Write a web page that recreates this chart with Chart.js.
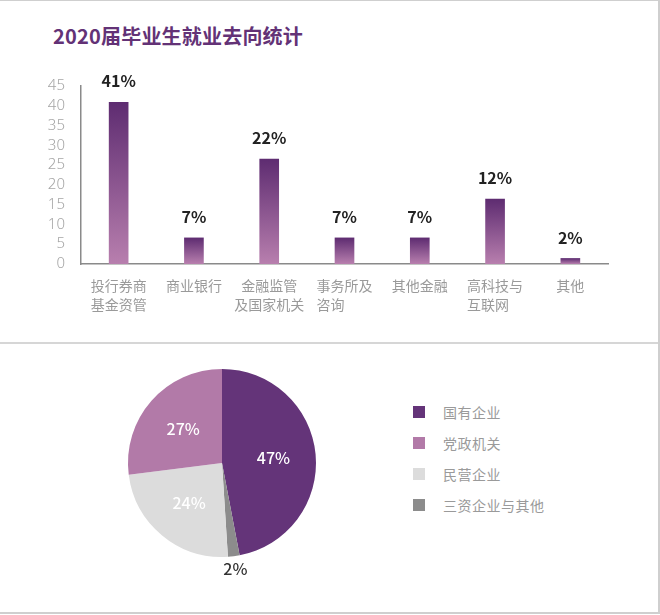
<!DOCTYPE html>
<html lang="zh-CN">
<head>
<meta charset="UTF-8">
<title>2020届毕业生就业去向统计</title>
<script src="https://cdn.jsdelivr.net/npm/chart.js"></script>
<style>
    body {
        margin: 0;
        background: #fff;
        font-family: "Noto Sans CJK SC", "Noto Sans", sans-serif;
    }
    .page {
        position: relative;
        width: 658px;
        height: 611px;
        border-top: 1px solid #cfcfcf;
        border-right: 2px solid #cfcfcf;
        border-bottom: 2px solid #cfcfcf;
    }
    h2 {
        position: absolute;
        left: 53px;
        top: 20px;
        margin: 0;
        font-size: 20px;
        line-height: 30px;
        letter-spacing: 0.2px;
        color: #633276;
        font-weight: bold;
    }
    .sep {
        position: absolute;
        left: 0;
        top: 341px;
        width: 658px;
        height: 0;
        border-top: 2px solid #d6d6d6;
    }
    #barBox { position: absolute; left: 0; top: 0; width: 660px; height: 340px; }
    #pieBox { position: absolute; left: 100px; top: 350px; width: 245px; height: 240px; }
    .legend { position: absolute; left: 413px; top: 395px; }
    .legend div {
        height: 31px;
        display: flex;
        align-items: center;
        font-size: 14px;
        letter-spacing: 0.5px;
        color: #9a9a9a;
    }
    .legend span {
        display: inline-block;
        width: 12px;
        height: 12px;
        margin-right: 18px;
    }
</style>
</head>
<body>
<div class="page">
    <h2>2020届毕业生就业去向统计</h2>
    <div id="barBox"><canvas id="barChart"></canvas></div>
    <div class="sep"></div>
    <div id="pieBox"><canvas id="pieChart"></canvas></div>
    <div class="legend" id="legend"></div>
</div>

<script>
    // bar chart data
    const categories = [
        ['投行券商', '基金资管'],
        '商业银行',
        ['金融监管', '及国家机关'],
        ['事务所及', '咨询\u3000\u3000'],
        '其他金融',
        ['高科技与', '互联网\u3000'],
        '其他'
    ];
    const barValues = [40.9, 6.6, 26.5, 6.6, 6.6, 16.4, 1.4];
    const barLabels = ['41%', '7%', '22%', '7%', '7%', '12%', '2%'];
    const yTicks = [0, 5, 10, 15, 20, 25, 30, 35, 40, 45];

    // pie chart data (clockwise from top)
    const pieLabels = ['国有企业', '三资企业与其他', '民营企业', '党政机关'];
    const pieValues = [47, 2, 24, 27];
    const pieColors = ['#643479', '#8c8c8c', '#dcdcdc', '#b27aa8'];
    const legendOrder = [0, 3, 2, 1];

    function barGradient(ctx) {
        const chart = ctx.chart;
        if (!chart.chartArea || ctx.parsed === undefined) return '#8a5096';
        const y = chart.scales.y;
        const top = y.getPixelForValue(ctx.parsed.y);
        const bottom = y.getPixelForValue(0);
        const g = chart.ctx.createLinearGradient(0, top, 0, bottom);
        g.addColorStop(0, '#5e2c71');
        g.addColorStop(1, '#b87fae');
        return g;
    }

    const barLabelPlugin = {
        id: 'barLabels',
        afterDatasetsDraw(chart) {
            const c = chart.ctx;
            c.save();
            c.font = 'bold 16px "Noto Sans CJK SC", sans-serif';
            c.fillStyle = '#222';
            c.textAlign = 'center';
            c.textBaseline = 'middle';
            chart.getDatasetMeta(0).data.forEach((bar, i) => {
                c.fillText(barLabels[i], bar.x, bar.y - 21);
            });
            c.restore();
        }
    };

    new Chart(document.getElementById('barChart'), {
        type: 'bar',
        data: {
            labels: categories,
            datasets: [{
                data: barValues,
                backgroundColor: barGradient,
                barThickness: 19
            }]
        },
        options: {
            responsive: true,
            maintainAspectRatio: false,
            animation: false,
            layout: { padding: { top: 85, right: 52, left: 1, bottom: 0 } },
            plugins: { legend: { display: false }, tooltip: { enabled: false } },
            scales: {
                x: {
                    afterFit(scale) { scale.height = 77; },
                    grid: { display: false, drawTicks: false },
                    border: { color: '#8a8a8a', width: 1.5 },
                    ticks: {
                        padding: 13,
                        maxRotation: 0,
                        autoSkip: false,
                        color: '#9a9a9a',
                        font: { size: 14, lineHeight: 1.3, family: '"Noto Sans CJK SC", sans-serif' }
                    }
                },
                y: {
                    min: 0,
                    max: 45,
                    afterFit(scale) { scale.width = 80; },
                    afterBuildTicks(scale) { scale.ticks = yTicks.map(v => ({ value: v })); },
                    grid: { display: false, drawTicks: false },
                    border: { color: '#8a8a8a', width: 1.5 },
                    ticks: {
                        padding: 16,
                        autoSkip: false,
                        color: '#a5a5a5',
                        font: { size: 15, family: '"Noto Sans", sans-serif', weight: 300 }
                    }
                }
            }
        },
        plugins: [barLabelPlugin]
    });

    const pieLabelPlugin = {
        id: 'pieLabels',
        afterDatasetsDraw(chart) {
            const c = chart.ctx;
            c.save();
            c.font = '500 16px "Noto Sans CJK SC", sans-serif';
            c.textAlign = 'center';
            c.textBaseline = 'middle';
            chart.getDatasetMeta(0).data.forEach((arc, i) => {
                const mid = (arc.startAngle + arc.endAngle) / 2;
                const small = pieValues[i] < 5;
                const r = small ? arc.outerRadius + 13 : arc.outerRadius * 0.55;
                c.fillStyle = small ? '#333' : '#fff';
                c.fillText(pieValues[i] + '%', arc.x + Math.cos(mid) * r, arc.y + Math.sin(mid) * r);
            });
            c.restore();
        }
    };

    new Chart(document.getElementById('pieChart'), {
        type: 'pie',
        data: {
            labels: pieLabels,
            datasets: [{
                data: pieValues,
                backgroundColor: pieColors,
                borderWidth: 0
            }]
        },
        options: {
            responsive: true,
            maintainAspectRatio: false,
            animation: false,
            layout: { padding: { left: 28, right: 29, top: 18, bottom: 34 } },
            plugins: { legend: { display: false }, tooltip: { enabled: false } }
        },
        plugins: [pieLabelPlugin]
    });

    const legend = document.getElementById('legend');
    legendOrder.forEach(i => {
        const row = document.createElement('div');
        row.innerHTML = '<span style="background:' + pieColors[i] + '"></span>' + pieLabels[i];
        legend.appendChild(row);
    });
</script>
</body>
</html>
